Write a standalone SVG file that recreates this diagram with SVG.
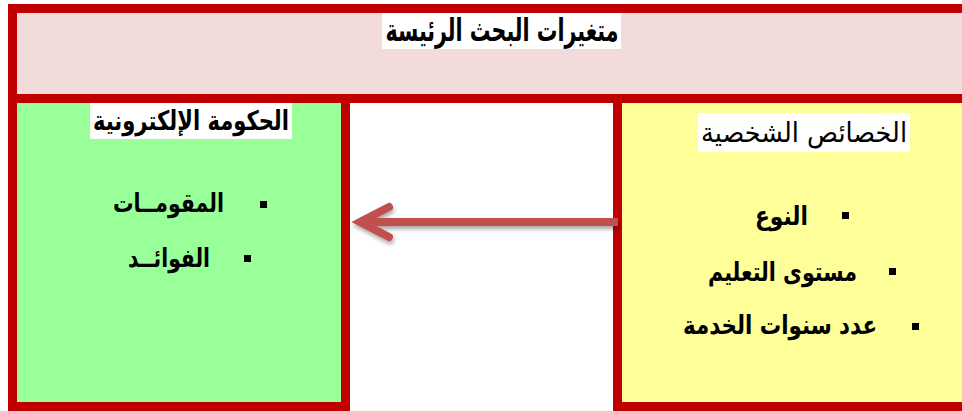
<svg xmlns="http://www.w3.org/2000/svg" width="962" height="411" viewBox="0 0 962 411">
<style>
.frame{stroke:#C00000;stroke-width:9}
.t{font-family:"DejaVu Sans","Noto Sans",sans-serif;font-weight:bold;fill:#000;text-anchor:middle}
.n{font-weight:normal}
.lbl{fill:#FFFFFF}
.bul{fill:#000}
</style>
<defs>
<filter id="sh" x="-10%" y="-50%" width="120%" height="200%">
<feDropShadow dx="1" dy="3" stdDeviation="2" flood-color="#000" flood-opacity="0.35"/>
</filter>
</defs>
<rect x="0" y="0" width="962" height="411" fill="#FFFFFF"/>
<g id="top">
<rect class="frame" x="12.5" y="8.5" width="960" height="90" fill="#F2DCDB"/>
<rect class="lbl" x="382" y="13" width="239" height="36"/>
<text class="t" x="502" y="41" font-size="31" direction="rtl" textLength="233" lengthAdjust="spacingAndGlyphs">متغيرات البحث الرئيسة</text>
</g>
<g id="egov">
<rect class="frame" x="12.5" y="98.5" width="333" height="308" fill="#99FF99"/>
<rect class="lbl" x="90" y="103" width="202" height="36"/>
<text class="t" x="191" y="130" font-size="27" direction="rtl" textLength="196" lengthAdjust="spacingAndGlyphs">الحكومة الإلكترونية</text>
<rect class="bul" x="260" y="201" width="7" height="7"/>
<text class="t" x="168.5" y="212" font-size="26" direction="rtl" textLength="111" lengthAdjust="spacingAndGlyphs">المقومــات</text>
<rect class="bul" x="244" y="255" width="7" height="7"/>
<text class="t" x="169" y="267" font-size="26" direction="rtl" textLength="82" lengthAdjust="spacingAndGlyphs">الفوائــد</text>
</g>
<g id="personal">
<rect class="frame" x="617.5" y="98.5" width="360" height="308" fill="#FFFF99"/>
<rect class="lbl" x="698" y="113" width="212" height="39"/>
<text class="t n" x="804" y="142" font-size="27" direction="rtl" textLength="206" lengthAdjust="spacingAndGlyphs">الخصائص الشخصية</text>
<rect class="bul" x="842" y="212" width="7" height="7"/>
<text class="t" x="781.5" y="225" font-size="26" direction="rtl" textLength="53" lengthAdjust="spacingAndGlyphs">النوع</text>
<rect class="bul" x="889" y="268" width="7" height="7"/>
<text class="t" x="782.5" y="281" font-size="26" direction="rtl" textLength="149" lengthAdjust="spacingAndGlyphs">مستوى التعليم</text>
<rect class="bul" x="912" y="323" width="7" height="7"/>
<text class="t" x="780" y="334" font-size="26" direction="rtl" textLength="194" lengthAdjust="spacingAndGlyphs">عدد سنوات الخدمة</text>
</g>
<g id="connectors">
<g filter="url(#sh)" stroke="#C0504D" stroke-width="8" fill="none">
<line x1="618" y1="222" x2="362" y2="222" stroke-linecap="butt"/>
<polyline points="389,207 360,222 389,237" stroke-linecap="round" stroke-linejoin="miter"/>
</g>
</g>
</svg>
